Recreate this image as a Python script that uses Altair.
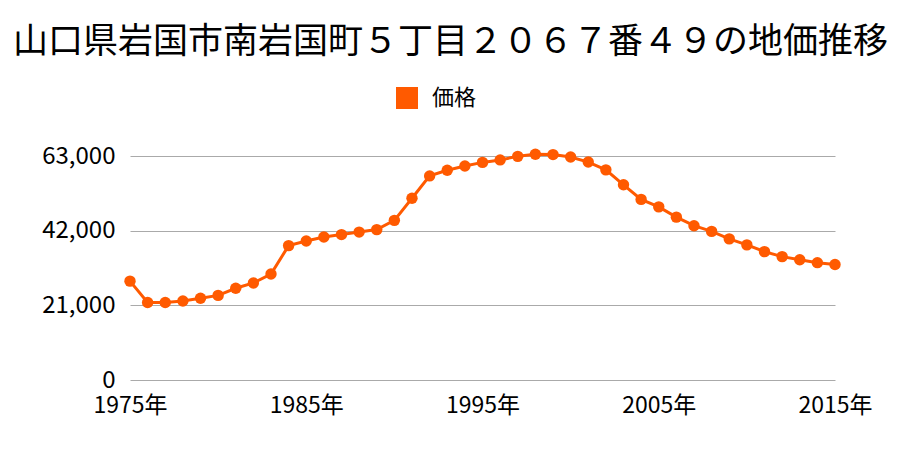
import altair as alt
import pandas as pd

years = list(range(1975, 2016))
prices = [27800, 21800, 21800, 22200, 23000, 23800, 25800, 27300, 29800, 37800,
          39100, 40200, 40900, 41600, 42300, 44900, 51100, 57400, 59000, 60200,
          61200, 61900, 62900, 63500, 63400, 62700, 61300, 59100, 54900, 50800,
          48700, 45800, 43400, 41800, 39700, 38000, 36100, 34700, 33800, 33000,
          32500]
series = ["価格"] * len(years)
title_text = "山口県岩国市南岩国町５丁目２０６７番４９の地価推移"
y_ticks = [0, 21000, 42000, 63000]
x_ticks = [1975, 1985, 1995, 2005, 2015]

df = pd.DataFrame({"year": years, "price": prices, "series": series})
FONT = "Noto Sans CJK JP"
ORANGE = "#FF5A00"

color = alt.Color("series:N", scale=alt.Scale(domain=["価格"], range=[ORANGE]),
                  legend=alt.Legend(title=None, orient="none", legendX=266, legendY=-69,
                                    symbolType="square", symbolSize=484,
                                    symbolStrokeWidth=0, labelFontSize=22,
                                    labelOffset=14,
                                    labelFont=FONT, labelColor="#000"))

x = alt.X("year:Q", scale=alt.Scale(domain=[1975, 2015], nice=False, zero=False),
          axis=alt.Axis(values=x_ticks, labelExpr="datum.value + '年'", title=None,
                        grid=False, ticks=False, domain=False, labelFontSize=23,
                        labelFlush=False, labelFont=FONT, labelColor="#000",
                        labelPadding=14))
y = alt.Y("price:Q", scale=alt.Scale(domain=[0, 63000], nice=False),
          axis=alt.Axis(values=y_ticks, format=",.0f", title=None, ticks=False,
                        domain=False, gridColor="#aaaaaa", gridWidth=1,
                        labelFontSize=24, labelFont=FONT, labelColor="#000",
                        labelPadding=15))

base = alt.Chart(df)
line = base.mark_line(color=ORANGE, strokeWidth=3, clip=False).encode(x=x, y=y)
pts = base.mark_point(filled=True, size=130, opacity=1, clip=False).encode(
    x=x, y=y, color=color)

chart = (line + pts).properties(
    width=705, height=224,
    title=alt.TitleParams(title_text, fontSize=35, font=FONT, fontWeight="normal",
                          color="#000", anchor="middle", dx=-32, offset=27,
                          frame="group"),
    padding={"left": 130, "top": 156, "right": 65, "bottom": 70},
    autosize=alt.AutoSizeParams(type="none"),
).configure_view(stroke=None)

chart.save("out.html", embed_options={"renderer": "svg", "actions": False})
